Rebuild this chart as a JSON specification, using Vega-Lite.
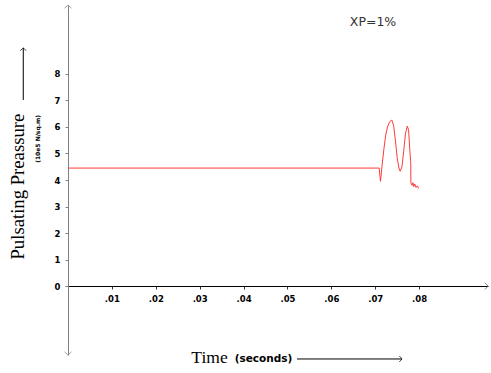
{
  "$schema": "https://vega.github.io/schema/vega-lite/v6.json",
  "width": 420,
  "height": 350,
  "autosize": {"type": "none"},
  "padding": {"left": 68, "top": 5, "right": 3, "bottom": 18},
  "background": "white",
  "config": {"view": {"stroke": null}},
  "data": {"values": [
    {"t": 0.0, "p": 4.45},
    {"t": 0.0709, "p": 4.45},
    {"t": 0.0712, "p": 3.95},
    {"t": 0.0716, "p": 4.6},
    {"t": 0.072, "p": 5.2},
    {"t": 0.0724, "p": 5.7},
    {"t": 0.0728, "p": 6.0},
    {"t": 0.0733, "p": 6.2},
    {"t": 0.0738, "p": 6.26},
    {"t": 0.0742, "p": 6.05},
    {"t": 0.0746, "p": 5.5},
    {"t": 0.075, "p": 4.85},
    {"t": 0.0754, "p": 4.45},
    {"t": 0.0757, "p": 4.33},
    {"t": 0.0761, "p": 4.5},
    {"t": 0.0765, "p": 5.1},
    {"t": 0.0769, "p": 5.75},
    {"t": 0.0773, "p": 6.03},
    {"t": 0.0776, "p": 5.9},
    {"t": 0.0779, "p": 5.1},
    {"t": 0.0781, "p": 4.65},
    {"t": 0.07812, "p": 3.9},
    {"t": 0.0784, "p": 3.8},
    {"t": 0.0786, "p": 3.9},
    {"t": 0.0788, "p": 3.75},
    {"t": 0.079, "p": 3.85},
    {"t": 0.0793, "p": 3.72},
    {"t": 0.0796, "p": 3.78},
    {"t": 0.0799, "p": 3.68}
  ]},
  "layer": [
    {
      "mark": {"type": "line", "color": "#ff3b3b", "strokeWidth": 1, "clip": false},
      "encoding": {
        "x": {"field": "t", "type": "quantitative",
          "scale": {"domain": [0, 0.0957], "nice": false, "zero": false},
          "axis": {"title": null, "offset": -69, "values": [0.01, 0.02, 0.03, 0.04, 0.05, 0.06, 0.07, 0.08],
            "labelExpr": "'.0' + round(datum.value*100)", "grid": false,
            "domainColor": "#000000", "domainWidth": 1, "tickColor": "#333333", "tickSize": 3,
            "labelFont": "DejaVu Sans", "labelFontWeight": "bold", "labelFontSize": 8.5, "labelColor": "#000000",
            "labelPadding": 5}},
        "y": {"field": "p", "type": "quantitative",
          "scale": {"domain": [-2.6, 10.6], "nice": false, "zero": false},
          "axis": {"title": null, "values": [0, 1, 2, 3, 4, 5, 6, 7, 8], "format": "d", "grid": false,
            "domainColor": "#808080", "domainWidth": 1, "tickColor": "#808080", "tickSize": 3,
            "labelFont": "DejaVu Sans", "labelFontWeight": "bold", "labelFontSize": 8.5, "labelColor": "#000000",
            "labelPadding": 5}}
      }
    },
    {
      "data": {"values": [{}]},
      "mark": {"type": "point", "shape": "M-1,0.9L0,0L1,0.9", "filled": false, "stroke": "#808080", "strokeWidth": 1, "size": 49, "clip": false},
      "encoding": {
        "x": {"datum": 0, "type": "quantitative", "scale": {"domain": [0, 0.0957], "nice": false, "zero": false}},
        "y": {"datum": 10.6, "type": "quantitative", "scale": {"domain": [-2.6, 10.6], "nice": false, "zero": false}}
      }
    },
    {
      "data": {"values": [{}]},
      "mark": {"type": "point", "shape": "M-1,-0.9L0,0L1,-0.9", "filled": false, "stroke": "#808080", "strokeWidth": 1, "size": 49, "clip": false},
      "encoding": {
        "x": {"datum": 0, "type": "quantitative", "scale": {"domain": [0, 0.0957], "nice": false, "zero": false}},
        "y": {"datum": -2.6, "type": "quantitative", "scale": {"domain": [-2.6, 10.6], "nice": false, "zero": false}}
      }
    },
    {
      "data": {"values": [{}]},
      "mark": {"type": "point", "shape": "M-0.9,-1L0,0L-0.9,1", "filled": false, "stroke": "#555555", "strokeWidth": 1, "size": 49, "clip": false},
      "encoding": {
        "x": {"datum": 0.0957, "type": "quantitative", "scale": {"domain": [0, 0.0957], "nice": false, "zero": false}},
        "y": {"datum": 0, "type": "quantitative", "scale": {"domain": [-2.6, 10.6], "nice": false, "zero": false}}
      }
    },
    {
      "data": {"values": [{}]},
      "mark": {"type": "text", "text": "Pulsating Preassure", "angle": 270, "font": "Liberation Serif", "fontSize": 18.7, "align": "center", "baseline": "middle", "color": "#000000"},
      "encoding": {
        "x": {"datum": -0.01128, "type": "quantitative", "scale": {"domain": [0, 0.0957], "nice": false, "zero": false}},
        "y": {"datum": 3.75, "type": "quantitative", "scale": {"domain": [-2.6, 10.6], "nice": false, "zero": false}}
      }
    },
    {
      "data": {"values": [{}]},
      "mark": {"type": "rule", "color": "#000000", "strokeWidth": 1, "clip": false},
      "encoding": {
        "x": {"datum": -0.01019, "type": "quantitative", "scale": {"domain": [0, 0.0957], "nice": false, "zero": false}},
        "y": {"datum": 7.02, "type": "quantitative", "scale": {"domain": [-2.6, 10.6], "nice": false, "zero": false}},
        "y2": {"datum": 8.98}
      }
    },
    {
      "data": {"values": [{}]},
      "mark": {"type": "point", "shape": "M-1,0.9L0,0L1,0.9", "filled": false, "stroke": "#000000", "strokeWidth": 1, "size": 36, "clip": false},
      "encoding": {
        "x": {"datum": -0.01019, "type": "quantitative", "scale": {"domain": [0, 0.0957], "nice": false, "zero": false}},
        "y": {"datum": 8.98, "type": "quantitative", "scale": {"domain": [-2.6, 10.6], "nice": false, "zero": false}}
      }
    },
    {
      "data": {"values": [{}]},
      "mark": {"type": "text", "text": "(10e5 N/sq.m)", "angle": 270, "font": "DejaVu Sans", "fontWeight": "bold", "fontSize": 6, "align": "center", "baseline": "middle", "color": "#000000"},
      "encoding": {
        "x": {"datum": -0.00684, "type": "quantitative", "scale": {"domain": [0, 0.0957], "nice": false, "zero": false}},
        "y": {"datum": 5.55, "type": "quantitative", "scale": {"domain": [-2.6, 10.6], "nice": false, "zero": false}}
      }
    },
    {
      "data": {"values": [{}]},
      "mark": {"type": "text", "text": "Time", "font": "Liberation Serif", "fontSize": 17.5, "align": "center", "baseline": "middle", "color": "#000000"},
      "encoding": {
        "x": {"datum": 0.03224, "type": "quantitative", "scale": {"domain": [0, 0.0957], "nice": false, "zero": false}},
        "y": {"datum": -2.72, "type": "quantitative", "scale": {"domain": [-2.6, 10.6], "nice": false, "zero": false}}
      }
    },
    {
      "data": {"values": [{}]},
      "mark": {"type": "text", "text": "(seconds)", "font": "DejaVu Sans", "fontWeight": "bold", "fontSize": 10.5, "align": "center", "baseline": "middle", "color": "#000000"},
      "encoding": {
        "x": {"datum": 0.04455, "type": "quantitative", "scale": {"domain": [0, 0.0957], "nice": false, "zero": false}},
        "y": {"datum": -2.75, "type": "quantitative", "scale": {"domain": [-2.6, 10.6], "nice": false, "zero": false}}
      }
    },
    {
      "data": {"values": [{}]},
      "mark": {"type": "rule", "color": "#000000", "strokeWidth": 1, "clip": false},
      "encoding": {
        "x": {"datum": 0.05218, "type": "quantitative", "scale": {"domain": [0, 0.0957], "nice": false, "zero": false}},
        "x2": {"datum": 0.07611},
        "y": {"datum": -2.75, "type": "quantitative", "scale": {"domain": [-2.6, 10.6], "nice": false, "zero": false}}
      }
    },
    {
      "data": {"values": [{}]},
      "mark": {"type": "point", "shape": "M-0.9,-1L0,0L-0.9,1", "filled": false, "stroke": "#000000", "strokeWidth": 1, "size": 36, "clip": false},
      "encoding": {
        "x": {"datum": 0.07611, "type": "quantitative", "scale": {"domain": [0, 0.0957], "nice": false, "zero": false}},
        "y": {"datum": -2.75, "type": "quantitative", "scale": {"domain": [-2.6, 10.6], "nice": false, "zero": false}}
      }
    },
    {
      "data": {"values": [{}]},
      "mark": {"type": "text", "text": "XP=1%", "font": "DejaVu Sans", "fontSize": 12.5, "align": "center", "baseline": "middle", "color": "#333333"},
      "encoding": {
        "x": {"datum": 0.0695, "type": "quantitative", "scale": {"domain": [0, 0.0957], "nice": false, "zero": false}},
        "y": {"datum": 9.96, "type": "quantitative", "scale": {"domain": [-2.6, 10.6], "nice": false, "zero": false}}
      }
    }
  ]
}
